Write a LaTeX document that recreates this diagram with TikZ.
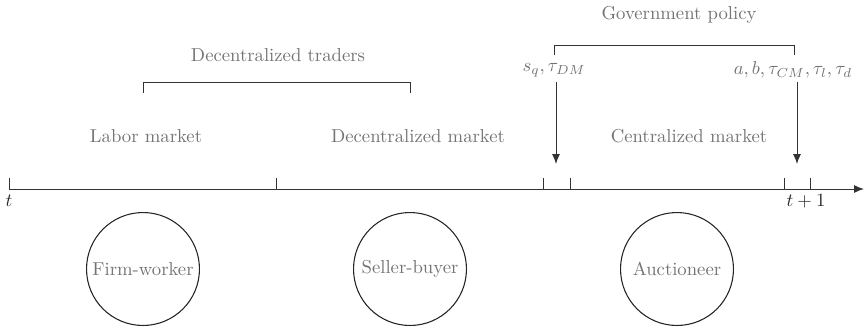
\documentclass[tikz,border=0pt]{standalone}
\usetikzlibrary{arrows.meta}
\begin{document}
\begin{tikzpicture}[x=0.5pt,y=-0.5pt,
  every node/.style={scale=0.935},
  lbl/.style={text=black!55, inner sep=0pt},
  ln/.style={draw=black!80, line width=0.5pt},
  agent/.style={circle, draw=black!85, line width=0.535pt, minimum size=60.4pt, inner sep=0pt, text=black!55},
  arr/.style={ln, -{Latex[length=5pt,width=4pt]}}]
\useasboundingbox (0,0) rectangle (864,329);
% timeline
\coordinate (t0) at (9,189);
\coordinate (tend) at (864,189);
\draw[arr] (t0) -- (tend);
\foreach \x/\n in {9/a,276/b,543/c,570/d,784/e,810/f}{
  \coordinate (tk\n) at (\x,178);
  \draw[ln] (tk\n) -- (\x,189);
}
\node[inner sep=0pt, text=black!85] (tl) at (9,201) {$t$};
\node[inner sep=0pt, text=black!85] (tl1) at (806,201) {$t+1$};
% phase labels
\node[lbl] (lab) at (146,136) {Labor market};
\node[lbl] (dm) at (418,136) {Decentralized market};
\node[lbl] (cm) at (689,136) {Centralized market};
% decentralized traders bracket
\node[lbl] (dt) at (278,55) {Decentralized traders};
\coordinate (b1a) at (143,93);
\coordinate (b1b) at (410,93);
\draw[ln] (b1a) -- (143,82) -- (410,82) -- (b1b);
% government policy bracket
\node[lbl] (gp) at (679,15) {Government policy};
\coordinate (b2a) at (554,55);
\coordinate (b2b) at (794,55);
\draw[ln] (b2a) -- (554,45) -- (794,45) -- (b2b);
\node[lbl] (p1) at (554,70) {$s_q,\tau_{DM}$};
\node[lbl] (p2) at (793,70) {$a,b,\tau_{CM},\tau_l,\tau_d$};
\coordinate (a1s) at (556,82);
\coordinate (a1e) at (556,164);
\coordinate (a2s) at (797,82);
\coordinate (a2e) at (797,164);
\draw[arr] (a1s) -- (a1e);
\draw[arr] (a2s) -- (a2e);
% agents
\node[agent] (fw) at (143,269) {Firm-worker};
\node[agent] (sb) at (410,269) {Seller-buyer};
\node[agent] (au) at (677,269) {Auctioneer};
\end{tikzpicture}
\end{document}
